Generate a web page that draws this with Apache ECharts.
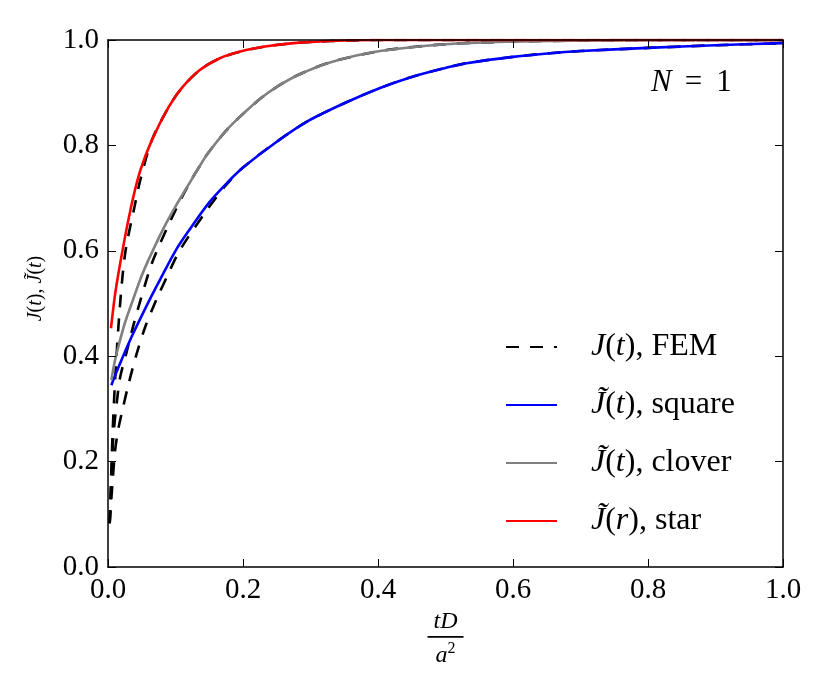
<!DOCTYPE html>
<html><head><meta charset="utf-8">
<script src="https://cdn.jsdelivr.net/npm/echarts@6/dist/echarts.min.js"></script>
<style>html,body{margin:0;padding:0;background:#fff}#c{width:830px;height:692px}</style>
</head><body><div id="c"></div>
<script>
// ---- data ----
const seriesNames = ['J(t), FEM', 'J\u0303(t), square', 'J\u0303(t), clover', 'J\u0303(r), star'];
const xTickLabels = ['0.0', '0.2', '0.4', '0.6', '0.8', '1.0'];
const yTickLabels = ['0.0', '0.2', '0.4', '0.6', '0.8', '1.0'];

const squareT = [0.005, 0.01, 0.02, 0.035, 0.05, 0.064, 0.077, 0.1, 0.1185, 0.15, 0.178, 0.2, 0.25, 0.296, 0.35, 0.403, 0.45, 0.5, 0.531, 0.6, 0.655, 0.7, 0.8, 0.9, 1.0];
const squareJ = [0.345, 0.362, 0.393, 0.437, 0.477, 0.513, 0.545, 0.6, 0.636, 0.692, 0.731, 0.758, 0.807, 0.846, 0.880, 0.909, 0.930, 0.947, 0.956, 0.968, 0.975, 0.979, 0.985, 0.990, 0.994];

const cloverT = [0.005, 0.01, 0.0153, 0.025, 0.037, 0.05, 0.059, 0.082, 0.099, 0.12, 0.136, 0.148, 0.175, 0.196, 0.225, 0.25, 0.284, 0.33, 0.403, 0.5, 0.6, 0.7, 0.8, 0.9, 1.0];
const cloverJ = [0.355, 0.39, 0.418, 0.463, 0.507, 0.553, 0.58, 0.642, 0.682, 0.727, 0.761, 0.785, 0.828, 0.855, 0.888, 0.911, 0.935, 0.958, 0.979, 0.992, 0.997, 0.999, 1.0, 1.0, 1.0];

const starT = [0.0044, 0.01, 0.0153, 0.022, 0.0285, 0.038, 0.048, 0.065, 0.09, 0.11, 0.136, 0.165, 0.196, 0.235, 0.275, 0.33, 0.4, 0.5, 0.6, 0.8, 1.0];
const starJ = [0.453, 0.513, 0.556, 0.604, 0.648, 0.705, 0.753, 0.81, 0.873, 0.91, 0.943, 0.965, 0.978, 0.988, 0.994, 0.998, 1.0, 1.0, 1.0, 1.0, 1.0];

const femSquareT = [0.0025, 0.005, 0.007, 0.0104, 0.015, 0.02, 0.03, 0.0425, 0.055, 0.0716, 0.087, 0.106, 0.143, 0.173, 0.2, 0.25, 0.296, 0.35, 0.403, 0.45, 0.5, 0.531, 0.6, 0.655, 0.7, 0.8, 0.9, 1.0];
const femSquareJ = [0.083, 0.13, 0.165, 0.22, 0.26, 0.29, 0.345, 0.405, 0.455, 0.507, 0.55, 0.6, 0.671, 0.722, 0.758, 0.807, 0.846, 0.880, 0.909, 0.930, 0.947, 0.956, 0.968, 0.975, 0.979, 0.985, 0.990, 0.994];

const femCloverT = [0.0025, 0.0055, 0.0079, 0.0128, 0.018, 0.027, 0.0375, 0.049, 0.067, 0.101, 0.12, 0.136, 0.148, 0.175, 0.196, 0.225, 0.25, 0.284, 0.33, 0.403, 0.5, 0.6, 0.7, 0.8, 0.9, 1.0];
const femCloverJ = [0.083, 0.184, 0.247, 0.31, 0.36, 0.405, 0.458, 0.51, 0.583, 0.68, 0.727, 0.761, 0.785, 0.828, 0.855, 0.888, 0.911, 0.935, 0.958, 0.979, 0.992, 0.997, 0.999, 1.0, 1.0, 1.0];

const femStarT = [0.0025, 0.0044, 0.007, 0.0119, 0.0188, 0.026, 0.0395, 0.048, 0.065, 0.09, 0.11, 0.136, 0.165, 0.196, 0.235, 0.275, 0.33, 0.4, 0.5, 0.6, 0.8, 1.0];
const femStarJ = [0.083, 0.16, 0.26, 0.386, 0.513, 0.6, 0.685, 0.735, 0.81, 0.873, 0.91, 0.943, 0.965, 0.978, 0.988, 0.994, 0.998, 1.0, 1.0, 1.0, 1.0, 1.0];

// ---- chart ----
const FONT = 'Liberation Serif';
const zip = (a, b) => a.map((v, i) => [v, b[i]]);
const chart = echarts.init(document.getElementById('c'), null, {renderer: 'canvas'});

const legendRich = {
  i: {fontFamily: FONT, fontStyle: 'italic', fontSize: 32, color: '#000'},
  r: {fontFamily: FONT, fontSize: 32, color: '#000'}
};
const legendText = {
  [seriesNames[0]]: '{i|J}{r|(}{i|t}{r|), FEM}',
  [seriesNames[1]]: '{i|J\u0303}{r|(}{i|t}{r|), square}',
  [seriesNames[2]]: '{i|J\u0303}{r|(}{i|t}{r|), clover}',
  [seriesNames[3]]: '{i|J\u0303}{r|(}{i|r}{r|), star}'
};

const axisCommon = {
  type: 'value', min: 0, max: 1, interval: 0.2,
  axisLine: {show: true, onZero: false, lineStyle: {color: '#000', width: 1.5}},
  axisTick: {show: true, inside: true, length: 8, lineStyle: {color: '#000', width: 1}},
  splitLine: {show: false},
  z: 10
};
const tickLabel = (labels) => ({
  fontFamily: FONT, fontSize: 29, color: '#000', margin: 9,
  formatter: (v) => labels[Math.round(v / 0.2)]
});

function line(name, t, j, color, dashed) {
  return {
    name, type: 'line', data: zip(t, j),
    showSymbol: false, symbol: 'none',
    smooth: 0.3,
    lineStyle: {color, width: 2.6, type: dashed ? [13, 11] : 'solid'},
    itemStyle: {color},
    z: dashed ? 2 : 3
  };
}

chart.setOption({
  animation: false,
  backgroundColor: '#fff',
  grid: {left: 108, right: 47, top: 40, bottom: 125, containLabel: false},
  xAxis: [
    Object.assign({}, axisCommon, {
      position: 'bottom',
      axisLabel: tickLabel(xTickLabels),
      name: '{n|tD}\n{bar| }\n{d|a}{s|2}',
      nameLocation: 'middle', nameGap: 40,
      nameTextStyle: {
        align: 'center',
        rich: {
          n: {fontFamily: FONT, fontStyle: 'italic', fontSize: 24, color: '#000', lineHeight: 22, align: 'center'},
          bar: {width: 36, height: 1.6, backgroundColor: '#000', lineHeight: 8, fontSize: 2, align: 'center'},
          d: {fontFamily: FONT, fontStyle: 'italic', fontSize: 24, color: '#000', lineHeight: 24},
          s: {fontFamily: FONT, fontSize: 16, color: '#000', lineHeight: 30, verticalAlign: 'top'}
        }
      }
    }),
    Object.assign({}, axisCommon, {position: 'top', axisLabel: {show: false}})
  ],
  yAxis: [
    Object.assign({}, axisCommon, {
      position: 'left',
      axisLabel: tickLabel(yTickLabels),
      name: '{i|J}{r|(}{i|t}{r|), }{i|J\u0303}{r|(}{i|t}{r|)}',
      nameLocation: 'middle', nameGap: 62, nameRotate: 90,
      nameTextStyle: {
        padding: [0, 0, 0, 30],
        rich: {
          i: {fontFamily: FONT, fontStyle: 'italic', fontSize: 20, color: '#000'},
          r: {fontFamily: FONT, fontSize: 20, color: '#000'}
        }
      }
    }),
    Object.assign({}, axisCommon, {position: 'right', axisLabel: {show: false}})
  ],
  legend: {
    orient: 'vertical', left: 500, top: 326,
    itemWidth: 51, itemHeight: 14, itemGap: 26,
    data: seriesNames,
    formatter: (n) => legendText[n],
    itemStyle: {opacity: 0},
    textStyle: {rich: legendRich, lineHeight: 32, padding: [0, 0, 0, 29]},
    selectedMode: false
  },
  graphic: [{
    type: 'text', left: 651, top: 67,
    style: {
      text: '{i|N}{s|=}{r|1}',
      rich: {
        i: {fontFamily: FONT, fontStyle: 'italic', fontSize: 31, color: '#000'},
        s: {fontFamily: FONT, fontSize: 31, color: '#000', padding: [0, 14, 0, 13]},
        r: {fontFamily: FONT, fontSize: 31, color: '#000'}
      }
    }
  }],
  series: [
    line(seriesNames[0], femSquareT, femSquareJ, '#000', true),
    Object.assign(line('femClover', femCloverT, femCloverJ, '#000', true), {legendHoverLink: false}),
    Object.assign(line('femStar', femStarT, femStarJ, '#000', true), {legendHoverLink: false}),
    line(seriesNames[1], squareT, squareJ, '#0000ff', false),
    line(seriesNames[2], cloverT, cloverJ, '#808080', false),
    line(seriesNames[3], starT, starJ, '#ff0000', false)
  ]
});
</script></body></html>
